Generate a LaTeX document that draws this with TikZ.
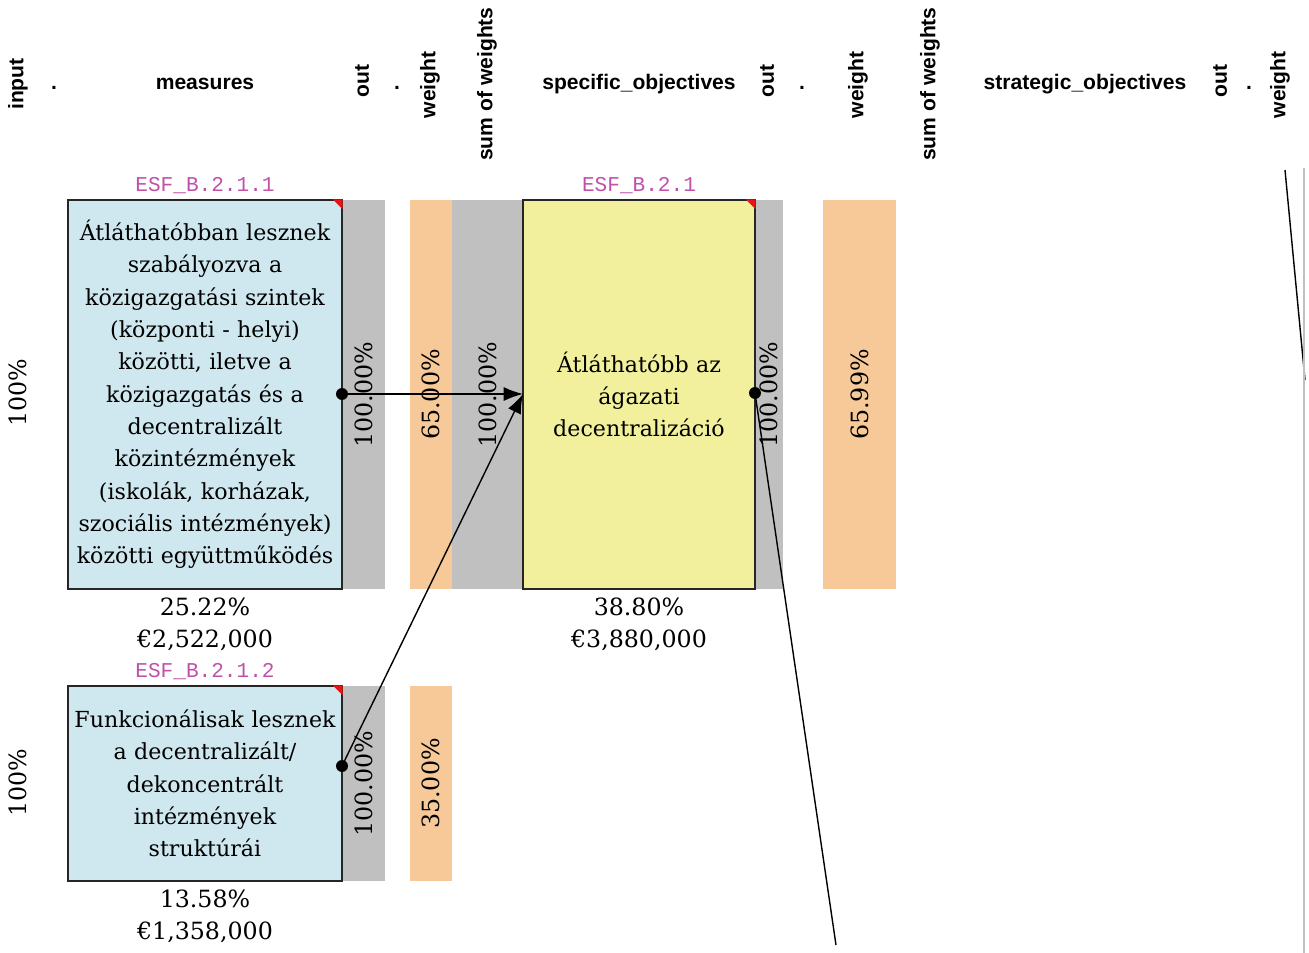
\documentclass[tikz,border=0pt]{standalone}
\usepackage{fontspec}
\setmainfont{DejaVu Serif}
\newfontfamily\headfont{Liberation Sans}
\newfontfamily\codefont{Liberation Mono}
\usepackage{xcolor}
\usetikzlibrary{arrows.meta, positioning}

\definecolor{measurefill}{RGB}{207,232,239}
\definecolor{objectfill}{RGB}{242,240,156}
\definecolor{outgrey}{RGB}{192,192,192}
\definecolor{weightorange}{RGB}{248,201,152}
\definecolor{codepink}{RGB}{192,80,168}
\definecolor{cornerred}{RGB}{230,20,20}

\begin{document}
\begin{tikzpicture}[x=0.02cm, y=-0.02cm, >={Latex[length=11pt,width=8pt]},
    box/.style={draw=black!85, line width=0.8pt, align=center, inner sep=0pt,
        minimum height=7.78cm, font=\fontsize{12.6}{18.4}\selectfont},
    measurebox/.style={box, fill=measurefill, minimum width=5.48cm, text width=5.4cm},
    objectbox/.style={box, fill=objectfill, minimum width=4.64cm, text width=4.5cm},
    bar/.style={rotate=90, inner sep=0pt, minimum width=7.78cm,
        font=\fontsize{13.5}{15}\selectfont},
    outbar/.style={bar, fill=outgrey},
    weightbar/.style={bar, fill=weightorange},
    head/.style={font=\headfont\bfseries\fontsize{12}{14}\selectfont},
    vhead/.style={head, rotate=90},
    code/.style={font=\codefont\fontsize{12}{14}\selectfont, text=codepink},
    money/.style={align=center, font=\fontsize{13.5}{18.4}\selectfont},
    conn/.style={line width=0.8pt}]
    \useasboundingbox (0,0) rectangle (1309,953);

    % =================================================================
    % 1. Column headers
    % =================================================================
    \node[vhead] (hinput) at (18,84) {input};
    \node[head] (hdot1) at (54,88) {.};
    \node[head] (hmeasures) at (205,84) {measures};
    \node[vhead] (hout1) at (362,81) {out};
    \node[head] (hdot2) at (397,88) {.};
    \node[vhead] (hweight1) at (430,85) {weight};
    \node[vhead] (hsum1) at (487,84) {sum of weights};
    \node[head] (hspecific) at (639,84) {specific\_objectives};
    \node[vhead] (hout2) at (767,81) {out};
    \node[head] (hdot3) at (802,88) {.};
    \node[vhead] (hweight2) at (858,85) {weight};
    \node[vhead] (hsum2) at (930,84) {sum of weights};
    \node[head] (hstrategic) at (1085,84) {strategic\_objectives};
    \node[vhead] (hout3) at (1220,81) {out};
    \node[head] (hdot4) at (1249,88) {.};
    \node[vhead] (hweight3) at (1280,85) {weight};

    % =================================================================
    % 2. Bars (out / weight / sum of weights)
    % =================================================================
    \node[outbar, minimum height=0.86cm] (m1out) at (363.5,394.5) {100.00\%};
    \node[weightbar, minimum height=0.84cm] (m1weight) at (431,394.5) {65.00\%};
    \node[outbar, minimum height=1.42cm] (sosum) at (487.5,394.5) {100.00\%};
    \node[outbar, minimum height=0.56cm] (soout) at (769,394.5) {100.00\%};
    \node[weightbar, minimum height=1.46cm] (soweight) at (859.5,394.5) {65.99\%};
    \node[outbar, minimum width=3.9cm, minimum height=0.86cm] (m2out) at (363.5,783.5) {100.00\%};
    \node[weightbar, minimum width=3.9cm, minimum height=0.84cm] (m2weight) at (431,783.5) {35.00\%};

    % =================================================================
    % 3. Measures and specific objective
    % =================================================================
    \node[measurebox] (m1) at (205,394.5) {Átláthatóbban lesznek\\szabályozva a\\közigazgatási szintek\\(központi - helyi)\\közötti, iletve a\\közigazgatás és a\\decentralizált\\közintézmények\\(iskolák, korházak,\\szociális intézmények)\\közötti együttműködés};
    \node[measurebox, minimum height=3.9cm] (m2) at (205,783.5) {Funkcionálisak lesznek\\a decentralizált/\\dekoncentrált\\intézmények\\struktúrái};
    \node[objectbox] (so) at (639,394.5) {Átláthatóbb az\\ágazati\\decentralizáció};

    % piros sarkok
    \foreach \b in {m1, m2, so}
        \fill[cornerred] (\b.north east) -- ++(-10,0) -- ++(10,10) -- cycle;

    % Codes and amounts
    \node[code] (m1code) at (205,186) {ESF\_B.2.1.1};
    \node[code] (m2code) at (205,672) {ESF\_B.2.1.2};
    \node[code] (socode) at (639,186) {ESF\_B.2.1};
    \node[money] (m1money) at (205,624) {25.22\%\\€2,522,000};
    \node[money] (m2money) at (205,916) {13.58\%\\€1,358,000};
    \node[money] (somoney) at (639,624) {38.80\%\\€3,880,000};
    \node[money, rotate=90] (in1) at (18,393) {100\%};
    \node[money, rotate=90] (in2) at (18,783) {100\%};

    % =================================================================
    % 4. Connectors
    % =================================================================
    \coordinate (m1port) at (342,394);
    \coordinate (m2port) at (342,766);
    \coordinate (soport) at (755,393);
    \coordinate (soin) at (523,394);
    \coordinate (sofar) at (836,945);
    \coordinate (sttop) at (1285,170);
    \coordinate (stend) at (1305,380);
    \draw[conn, ->] (m1port) -- (soin);
    \draw[conn, ->] (m2port) -- (soin);
    \draw[conn] (soport) -- (sofar);
    \draw[conn] (sttop) -- (stend);
    \draw[outgrey, line width=0.6pt] (1304,168) -- (1304,953);
    \foreach \p in {m1port, m2port, soport}
        \fill (\p) circle (3.4pt);
\end{tikzpicture}
\end{document}
